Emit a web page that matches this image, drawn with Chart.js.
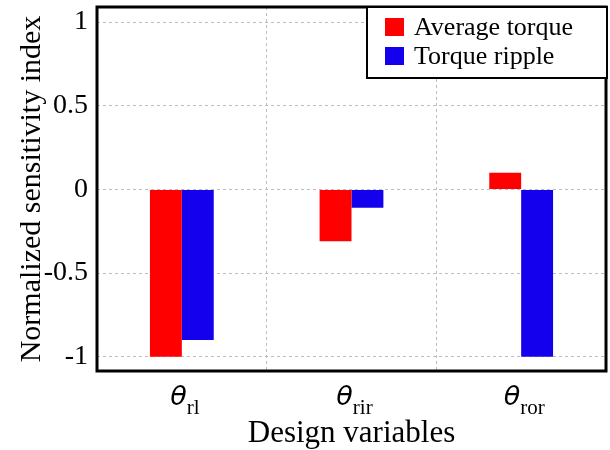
<!DOCTYPE html>
<html>
<head>
<meta charset="utf-8">
<script src="https://cdn.jsdelivr.net/npm/chart.js@4/dist/chart.umd.min.js"></script>
<style>
  html, body { margin: 0; padding: 0; background: #fff; }
  #wrap { width: 610px; height: 450px; }
</style>
</head>
<body>
<div id="wrap"><canvas id="chart"></canvas></div>
<script>
// data
const categories = ['rl', 'rir', 'ror'];          // subscripts of theta
const averageTorque = [-1.0, -0.31, 0.10];
const torqueRipple = [-0.9, -0.11, -1.0];
const yTicks = [-1, -0.5, 0, 0.5, 1];

const SERIF = '"Liberation Serif", "Times New Roman", serif';
const RED = '#ff0000';
const BLUE = '#1500ee';

/* frame, legend box and theta labels */
const decor = {
  id: 'decor',
  afterDraw(chart) {
    const ctx = chart.ctx;
    const a = chart.chartArea;
    const x = chart.scales.x;
    ctx.save();

    // theta + subscript labels under each category
    ctx.fillStyle = '#000';
    ctx.textBaseline = 'alphabetic';
    categories.forEach((sub, i) => {
      const cx = x.getPixelForValue(i);
      ctx.font = 'italic 27px "DejaVu Sans"';
      const wT = ctx.measureText('θ').width;
      ctx.font = '21px ' + SERIF;
      const wS = ctx.measureText(sub).width;
      const start = cx - (wT + wS) / 2 + 3;
      ctx.font = 'italic 27px "DejaVu Sans"';
      ctx.textAlign = 'left';
      ctx.fillText('θ', start, 405);
      ctx.font = '21px ' + SERIF;
      ctx.fillText(sub, start + wT, 414);
    });

    // plot frame
    ctx.strokeStyle = '#000';
    ctx.lineWidth = 3;
    ctx.strokeRect(a.left, a.top, a.right - a.left, a.bottom - a.top);

    // legend box
    const lx = 367, ly = 7, lw = 240, lh = 71;
    ctx.fillStyle = '#fff';
    ctx.fillRect(lx, ly, lw, lh);
    ctx.lineWidth = 2;
    ctx.strokeRect(lx, ly, lw, lh);
    chart.data.datasets.forEach((ds, i) => {
      const ry = 18 + i * 29;
      ctx.fillStyle = ds.backgroundColor;
      ctx.fillRect(385, ry, 19, 18);
      ctx.fillStyle = '#000';
      ctx.font = '26px ' + SERIF;
      ctx.textAlign = 'left';
      ctx.textBaseline = 'middle';
      ctx.fillText(ds.label, 414, ry + 10);
    });
    ctx.restore();
  }
};

new Chart(document.getElementById('chart'), {
  type: 'bar',
  data: {
    labels: categories,
    datasets: [
      { label: 'Average torque', data: averageTorque, backgroundColor: RED },
      { label: 'Torque ripple', data: torqueRipple, backgroundColor: BLUE }
    ]
  },
  options: {
    responsive: true,
    maintainAspectRatio: false,
    animation: false,
    devicePixelRatio: 1,
    layout: { padding: { top: 7, right: 4, left: 0, bottom: 0 } },
    datasets: { bar: { barPercentage: 1, categoryPercentage: 0.376 } },
    plugins: { legend: { display: false }, tooltip: { enabled: false } },
    scales: {
      x: {
        grid: { offset: true, color: '#bdbdbd', lineWidth: 1, drawTicks: false },
        border: { display: false, dash: [3, 3] },
        ticks: { display: false },
        title: {
          display: true, text: 'Design variables', color: '#000',
          font: { family: SERIF, size: 31 }, padding: { top: 0, bottom: -2 }
        },
        afterFit(s) { s.height = 79; s.paddingLeft = 0; s.paddingRight = 0; }
      },
      y: {
        min: -1.085, max: 1.09,
        afterBuildTicks(s) { s.ticks = yTicks.map(v => ({ value: v })); },
        grid: { color: '#bdbdbd', lineWidth: 1, drawTicks: false },
        border: { display: false, dash: [3, 3] },
        ticks: {
          color: '#000', padding: 9,
          font: { family: SERIF, size: 28 },
          callback: v => String(v)
        },
        title: {
          display: true, text: 'Normalized sensitivity index', color: '#000',
          font: { family: SERIF, size: 30 }, padding: { top: 14, bottom: 0 }
        },
        afterFit(s) { s.width = 97; s.paddingTop = 0; s.paddingBottom = 0; }
      }
    }
  },
  plugins: [decor]
});
</script>
</body>
</html>
